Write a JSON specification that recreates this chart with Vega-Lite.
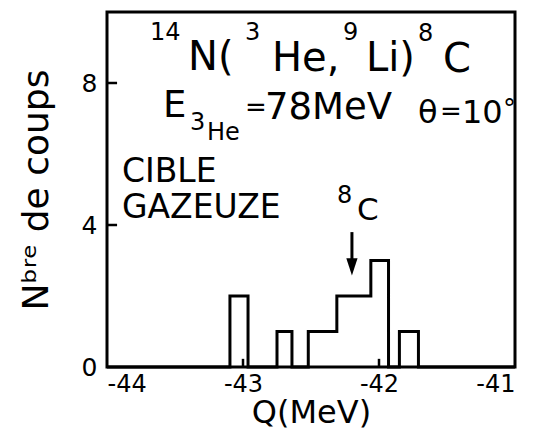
{
  "$schema": "https://vega.github.io/schema/vega-lite/v6.json",
  "width": 408,
  "height": 355,
  "autosize": {"type": "none"},
  "padding": {"left": 107, "top": 12, "right": 20, "bottom": 71},
  "background": "white",
  "config": {
    "font": "DejaVu Sans",
    "view": {"stroke": "black", "strokeWidth": 3},
    "axis": {
      "domain": false,
      "grid": false,
      "ticks": false,
      "labelColor": "black",
      "labelFont": "DejaVu Sans",
      "titleFont": "DejaVu Sans",
      "titleColor": "black",
      "titleFontWeight": "normal"
    }
  },
  "datasets": {
    "hist": [
      {"q": -44.0, "c": 0},
      {"q": -43.096, "c": 2},
      {"q": -42.963, "c": 0},
      {"q": -42.75, "c": 1},
      {"q": -42.64, "c": 0},
      {"q": -42.52, "c": 1},
      {"q": -42.31, "c": 2},
      {"q": -42.06, "c": 3},
      {"q": -41.93, "c": 0},
      {"q": -41.85, "c": 1},
      {"q": -41.71, "c": 0},
      {"q": -41.0, "c": 0}
    ],
    "ticks": [
      {"q": -44, "q2": -43.926, "c": 4, "c2": 4},
      {"q": -44, "q2": -43.926, "c": 8, "c2": 8},
      {"q": -43, "q2": -43, "c": 0, "c2": 0.23},
      {"q": -42, "q2": -42, "c": 0, "c2": 0.23}
    ],
    "annotations": [
      {"part": "title", "q": -43.404, "c": 8.37, "label": "N("},
      {"part": "title", "q": -42.787, "c": 8.35, "label": "He,"},
      {"part": "title", "q": -42.096, "c": 8.33, "label": "Li)"},
      {"part": "title", "q": -41.529, "c": 8.31, "label": "C"},
      {"part": "sup", "q": -43.684, "c": 9.21, "label": "14"},
      {"part": "sup", "q": -42.985, "c": 9.21, "label": "3"},
      {"part": "sup", "q": -42.265, "c": 9.2, "label": "9"},
      {"part": "sup", "q": -41.713, "c": 9.18, "label": "8"},
      {"part": "sup", "q": -43.39, "c": 6.68, "label": "3"},
      {"part": "sup", "q": -43.265, "c": 6.39, "label": "He"},
      {"part": "sup", "q": -42.309, "c": 4.62, "label": "8"},
      {"part": "beam", "q": -43.588, "c": 7.04, "label": "E"},
      {"part": "beam", "q": -42.838, "c": 6.99, "label": "78MeV"},
      {"part": "beamR", "q": -41.713, "c": 6.87, "label": "θ"},
      {"part": "beamR", "q": -41.39, "c": 6.86, "label": "10"},
      {"part": "eq", "q": -42.985, "c": 7.08, "label": "="},
      {"part": "eq", "q": -41.551, "c": 6.95, "label": "="},
      {"part": "deg", "q": -41.088, "c": 7.02, "label": "°"},
      {"part": "target", "q": -43.89, "c": 5.21, "label": "CIBLE"},
      {"part": "target", "q": -43.89, "c": 4.2, "label": "GAZEUZE"},
      {"part": "peak", "q": -42.162, "c": 4.14, "label": "C"}
    ],
    "arrow": [
      {"q": -42.199, "c": 3.8, "c2": 2.96}
    ]
  },
  "layer": [
    {
      "data": {"name": "hist"},
      "mark": {"type": "line", "interpolate": "step-after", "color": "black", "strokeWidth": 3},
      "encoding": {
        "x": {
          "field": "q",
          "type": "quantitative",
          "scale": {"domain": [-44, -41], "nice": false, "zero": false},
          "axis": {
            "title": "Q(MeV)",
            "values": [-44, -43, -42, -41],
            "labelExpr": "'-' + abs(datum.value)",
            "labelFontSize": 24,
            "labelPadding": 5,
            "titleFontSize": 32,
            "titleBaseline": "alphabetic",
            "titleY": 55
          }
        },
        "y": {
          "field": "c",
          "type": "quantitative",
          "scale": {"domain": [0, 10], "nice": false},
          "axis": {
            "title": "Nᵇʳᵉ de coups",
            "values": [0, 4, 8],
            "format": "d",
            "labelFontSize": 25,
            "labelPadding": 10,
            "titleFontSize": 36,
            "titleBaseline": "alphabetic",
            "titleX": -60
          }
        }
      }
    },
    {
      "data": {"name": "ticks"},
      "mark": {"type": "rule", "color": "black", "strokeWidth": 2.5},
      "encoding": {
        "x": {"field": "q", "type": "quantitative"},
        "x2": {"field": "q2"},
        "y": {"field": "c", "type": "quantitative"},
        "y2": {"field": "c2"}
      }
    },
    {
      "data": {"name": "annotations"},
      "transform": [{"filter": "datum.part === 'title'"}],
      "mark": {"type": "text", "align": "left", "baseline": "alphabetic", "fontSize": 40, "color": "black"},
      "encoding": {
        "x": {"field": "q", "type": "quantitative"},
        "y": {"field": "c", "type": "quantitative"},
        "text": {"field": "label"}
      }
    },
    {
      "data": {"name": "annotations"},
      "transform": [{"filter": "datum.part === 'sup'"}],
      "mark": {"type": "text", "align": "left", "baseline": "alphabetic", "fontSize": 24, "color": "black"},
      "encoding": {
        "x": {"field": "q", "type": "quantitative"},
        "y": {"field": "c", "type": "quantitative"},
        "text": {"field": "label"}
      }
    },
    {
      "data": {"name": "annotations"},
      "transform": [{"filter": "datum.part === 'beam'"}],
      "mark": {"type": "text", "align": "left", "baseline": "alphabetic", "fontSize": 37, "color": "black"},
      "encoding": {
        "x": {"field": "q", "type": "quantitative"},
        "y": {"field": "c", "type": "quantitative"},
        "text": {"field": "label"}
      }
    },
    {
      "data": {"name": "annotations"},
      "transform": [{"filter": "datum.part === 'beamR'"}],
      "mark": {"type": "text", "align": "left", "baseline": "alphabetic", "fontSize": 32, "color": "black"},
      "encoding": {
        "x": {"field": "q", "type": "quantitative"},
        "y": {"field": "c", "type": "quantitative"},
        "text": {"field": "label"}
      }
    },
    {
      "data": {"name": "annotations"},
      "transform": [{"filter": "datum.part === 'eq'"}],
      "mark": {"type": "text", "align": "left", "baseline": "alphabetic", "fontSize": 26, "color": "black"},
      "encoding": {
        "x": {"field": "q", "type": "quantitative"},
        "y": {"field": "c", "type": "quantitative"},
        "text": {"field": "label"}
      }
    },
    {
      "data": {"name": "annotations"},
      "transform": [{"filter": "datum.part === 'deg'"}],
      "mark": {"type": "text", "align": "left", "baseline": "alphabetic", "fontSize": 26, "color": "black"},
      "encoding": {
        "x": {"field": "q", "type": "quantitative"},
        "y": {"field": "c", "type": "quantitative"},
        "text": {"field": "label"}
      }
    },
    {
      "data": {"name": "annotations"},
      "transform": [{"filter": "datum.part === 'target'"}],
      "mark": {"type": "text", "align": "left", "baseline": "alphabetic", "fontSize": 33, "color": "black"},
      "encoding": {
        "x": {"field": "q", "type": "quantitative"},
        "y": {"field": "c", "type": "quantitative"},
        "text": {"field": "label"}
      }
    },
    {
      "data": {"name": "annotations"},
      "transform": [{"filter": "datum.part === 'peak'"}],
      "mark": {"type": "text", "align": "left", "baseline": "alphabetic", "fontSize": 31, "color": "black"},
      "encoding": {
        "x": {"field": "q", "type": "quantitative"},
        "y": {"field": "c", "type": "quantitative"},
        "text": {"field": "label"}
      }
    },
    {
      "data": {"name": "arrow"},
      "mark": {"type": "rule", "color": "black", "strokeWidth": 3},
      "encoding": {
        "x": {"field": "q", "type": "quantitative"},
        "y": {"field": "c", "type": "quantitative"},
        "y2": {"field": "c2"}
      }
    },
    {
      "data": {"name": "arrow"},
      "mark": {"type": "point", "shape": "M-0.65,-1L0.65,-1L0,1Z", "size": 300, "filled": true, "color": "black", "opacity": 1, "yOffset": 5},
      "encoding": {
        "x": {"field": "q", "type": "quantitative"},
        "y": {"field": "c2", "type": "quantitative"}
      }
    }
  ]
}
